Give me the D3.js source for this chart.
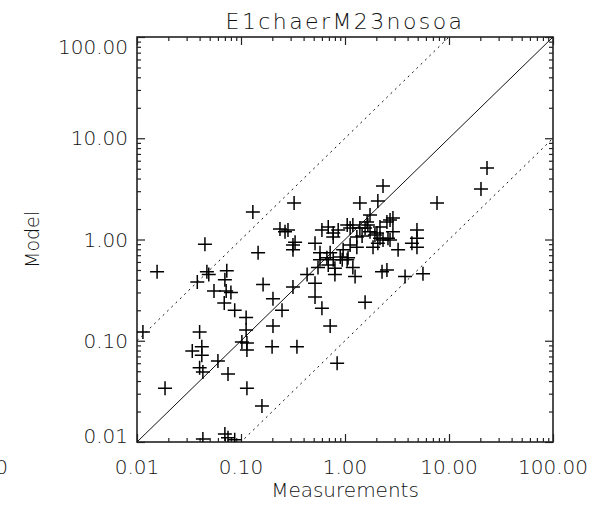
<!DOCTYPE html>
<html>
<head>
<meta charset="utf-8">
<script src="https://cdn.jsdelivr.net/npm/d3@7"></script>
<style>
  body { margin: 0; background: #fff; }
  text { font-family: "DejaVu Sans", sans-serif; font-weight: 200; fill: #111; }
</style>
</head>
<body>
<div id="chart"></div>
<script>
var measX = [0.0114,0.0156,0.0186,0.045,0.038,0.047,0.055,0.073,0.070,0.072,0.080,0.069,0.087,0.112,0.112,0.114,0.102,0.114,
  0.040,0.042,0.042,0.034,0.040,0.043,0.060,0.075,0.146,0.163,0.203,0.248,0.203,0.199,0.316,0.345,0.114,0.159,0.070,0.043,0.075,0.087,
  0.316,0.316,0.265,0.130,0.324,0.237,0.283,0.331,0.049,
  2.32,1.39,2.07,7.67,0.515,
  0.60,0.69,0.77,0.86,1.05,1.19,1.39,1.66,1.46,1.74,1.12,0.77,1.30,1.63,
  2.71,2.89,2.53,2.17,2.03,2.17,2.32,1.86,2.89,2.71,1.74,1.94,2.59,2.07,1.56,3.24,4.92,4.92,4.92,4.40,
  0.575,0.67,0.77,0.90,1.05,1.19,0.55,0.69,0.80,0.72,1.12,1.30,0.96,0.575,0.94,1.07,
  0.80,1.25,0.432,0.515,2.27,2.53,3.78,5.62,0.515,0.60,0.72,0.84,1.56,23.2,20.3];
var modelY = [0.122,0.48,0.034,0.90,0.38,0.48,0.31,0.49,0.40,0.31,0.30,0.236,0.20,0.17,0.128,0.095,0.097,0.081,
  0.122,0.087,0.072,0.079,0.054,0.049,0.063,0.047,0.74,0.36,0.26,0.20,0.14,0.087,0.34,0.087,0.034,0.0227,0.012,0.0107,0.011,0.0105,
  0.88,0.79,1.19,1.87,2.29,1.27,1.24,0.94,0.45,
  3.38,2.29,2.40,2.29,0.92,
  1.24,1.33,1.16,1.24,1.39,1.39,1.30,1.39,1.08,1.19,1.30,1.06,1.06,1.49,
  1.56,1.63,1.49,1.33,1.16,1.03,0.99,0.84,1.19,0.99,1.75,1.11,1.03,0.92,1.30,0.79,1.24,1.03,0.84,0.92,
  0.63,0.66,0.63,0.67,0.63,0.53,0.53,0.56,0.52,0.74,0.88,0.84,0.79,0.74,0.63,0.66,
  0.45,0.43,0.45,0.37,0.48,0.50,0.43,0.46,0.27,0.21,0.14,0.060,0.24,5.08,3.15];
var majorTicks = [0.01, 0.1, 1, 10, 100];
var tickLabels = ["0.01", "0.10", "1.00", "10.00", "100.00"];
var refLines = [{f: 1, dash: null}, {f: 10, dash: "2,4"}, {f: 0.1, dash: "2,4"}];

var W = 606, H = 507;
var margin = {top: 37, right: 53, bottom: 65, left: 137};
var w = W - margin.left - margin.right, h = H - margin.top - margin.bottom;

var svg = d3.select("#chart").append("svg").attr("width", W).attr("height", H);
var g = svg.append("g").attr("transform", "translate(" + margin.left + "," + margin.top + ")");

var x = d3.scaleLog().domain([0.01, 100]).range([0, w]);
var y = d3.scaleLog().domain([0.01, 100]).range([h, 0]);

var minorTicks = x.ticks().filter(function(t){ return majorTicks.indexOf(t) < 0; });

function styleAxis(sel){
  sel.select(".domain").remove();
  sel.selectAll("line").attr("stroke", "#222").attr("stroke-width", 1.2);
}
// inward ticks on all four sides
[[d3.axisBottom(x), "translate(0," + h + ")"], [d3.axisTop(x), null],
 [d3.axisLeft(y), null], [d3.axisRight(y), "translate(" + w + ",0)"]].forEach(function(a){
  var maj = g.append("g").call(a[0].tickValues(majorTicks).tickSize(-8).tickFormat(""));
  var mnr = g.append("g").call(a[0].tickValues(minorTicks).tickSize(-4).tickFormat(""));
  if(a[1]){ maj.attr("transform", a[1]); mnr.attr("transform", a[1]); }
  styleAxis(maj); styleAxis(mnr);
});

g.append("rect").attr("width", w).attr("height", h)
  .attr("fill", "none").attr("stroke", "#222").attr("stroke-width", 1.6);

// tick labels
g.selectAll(".xl").data(majorTicks).enter().append("text")
  .attr("x", function(d){ return x(d); }).attr("y", h + 32)
  .attr("text-anchor", "middle").style("font-size", "20px")
  .text(function(d, i){ return tickLabels[i]; });
// y labels are kept inside the frame's height, as in the original
g.selectAll(".yl").data(majorTicks).enter().append("text")
  .attr("x", -9).attr("y", function(d){ return Math.min(Math.max(y(d), 10), h - 6) + 7; })
  .attr("text-anchor", "end").style("font-size", "20px")
  .text(function(d, i){ return tickLabels[i]; });

// reference lines
g.append("clipPath").attr("id", "clip").append("rect").attr("width", w).attr("height", h);
refLines.forEach(function(r){
  g.append("line")
    .attr("x1", x(0.01)).attr("y1", y(0.01 * r.f))
    .attr("x2", x(100)).attr("y2", y(100 * r.f))
    .attr("clip-path", "url(#clip)")
    .attr("stroke", "#111").attr("stroke-width", 1)
    .attr("stroke-dasharray", r.dash);
});

// points as plus signs
var pts = g.append("g").attr("clip-path", "url(#clip)");
measX.forEach(function(mx, i){
  var cx = x(mx), cy = y(modelY[i]);
  pts.append("path")
    .attr("d", "M" + (cx - 7) + "," + cy + "H" + (cx + 7) + "M" + cx + "," + (cy - 7) + "V" + (cy + 7))
    .attr("stroke", "#000").attr("stroke-width", 1.5).attr("fill", "none");
});

// titles
svg.append("text").attr("x", margin.left + w / 2).attr("y", 29)
  .attr("text-anchor", "middle").style("font-size", "22px").style("letter-spacing", "2.4px")
  .text("E1chaerM23nosoa");
svg.append("text").attr("x", margin.left + w / 2).attr("y", 497)
  .attr("text-anchor", "middle").style("font-size", "20px")
  .text("Measurements");
svg.append("text").attr("transform", "translate(39," + (margin.top + h / 2) + ") rotate(-90)")
  .attr("text-anchor", "middle").style("font-size", "19px")
  .text("Model");
// edge of the neighbouring panel's last label
svg.append("text").attr("x", 8).attr("y", margin.top + h + 32)
  .attr("text-anchor", "end").style("font-size", "20px").text("100.00");
</script>
</body>
</html>
